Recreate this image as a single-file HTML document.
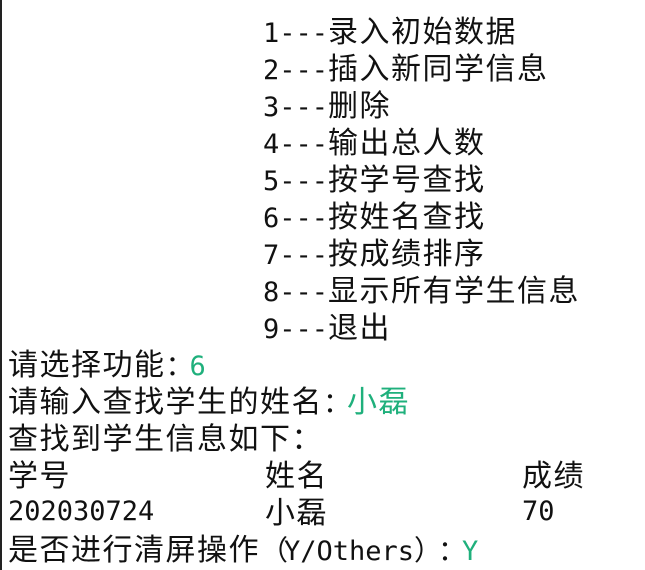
<!DOCTYPE html>
<html><head><meta charset="utf-8"><style>
body{margin:0;width:645px;height:570px;background:#fff;overflow:hidden;position:relative;border-left:2px solid #222;box-sizing:border-box}
.l{position:absolute;left:6px;height:37px;line-height:37px;white-space:pre;font-family:"DejaVu Sans Mono","Liberation Mono",monospace;font-size:27px;color:#111}
.c{font-family:"Noto Sans CJK SC","WenQuanYi Zen Hei",sans-serif;font-size:30px;letter-spacing:1.5px}
.p{display:inline-block;width:24px;text-align:center;font-family:"Noto Sans CJK SC",sans-serif;font-size:28px}
.g{color:#1fb07c}
</style></head><body>
<div class="l" style="top:11px;left:261px">1---<span class="c">录入初始数据</span></div>
<div class="l" style="top:48px;left:261px">2---<span class="c">插入新同学信息</span></div>
<div class="l" style="top:85px;left:261px">3---<span class="c">删除</span></div>
<div class="l" style="top:122px;left:261px">4---<span class="c">输出总人数</span></div>
<div class="l" style="top:159px;left:261px">5---<span class="c">按学号查找</span></div>
<div class="l" style="top:196px;left:261px">6---<span class="c">按姓名查找</span></div>
<div class="l" style="top:233px;left:261px">7---<span class="c">按成绩排序</span></div>
<div class="l" style="top:270px;left:261px">8---<span class="c">显示所有学生信息</span></div>
<div class="l" style="top:307px;left:261px">9---<span class="c">退出</span></div>
<div class="l" style="top:344px"><span class="c">请选择功能</span><span class="p">：</span><span class="g">6</span></div>
<div class="l" style="top:381px"><span class="c">请输入查找学生的姓名</span><span class="p">：</span><span class="c g">小磊</span></div>
<div class="l" style="top:418px"><span class="c">查找到学生信息如下：</span></div>
<div class="l" style="top:455px"><span class="c">学号</span></div>
<div class="l" style="top:455px;left:263px"><span class="c">姓名</span></div>
<div class="l" style="top:455px;left:520px"><span class="c">成绩</span></div>
<div class="l" style="top:493px">202030724</div>
<div class="l" style="top:492px;left:263px"><span class="c">小磊</span></div>
<div class="l" style="top:493px;left:520px">70</div>
<div class="l" style="top:529px"><span class="c">是否进行清屏操作</span><span class="p">（</span>Y/Others<span class="p">）</span><span class="p">：</span><span class="g">Y</span></div>
</body></html>
